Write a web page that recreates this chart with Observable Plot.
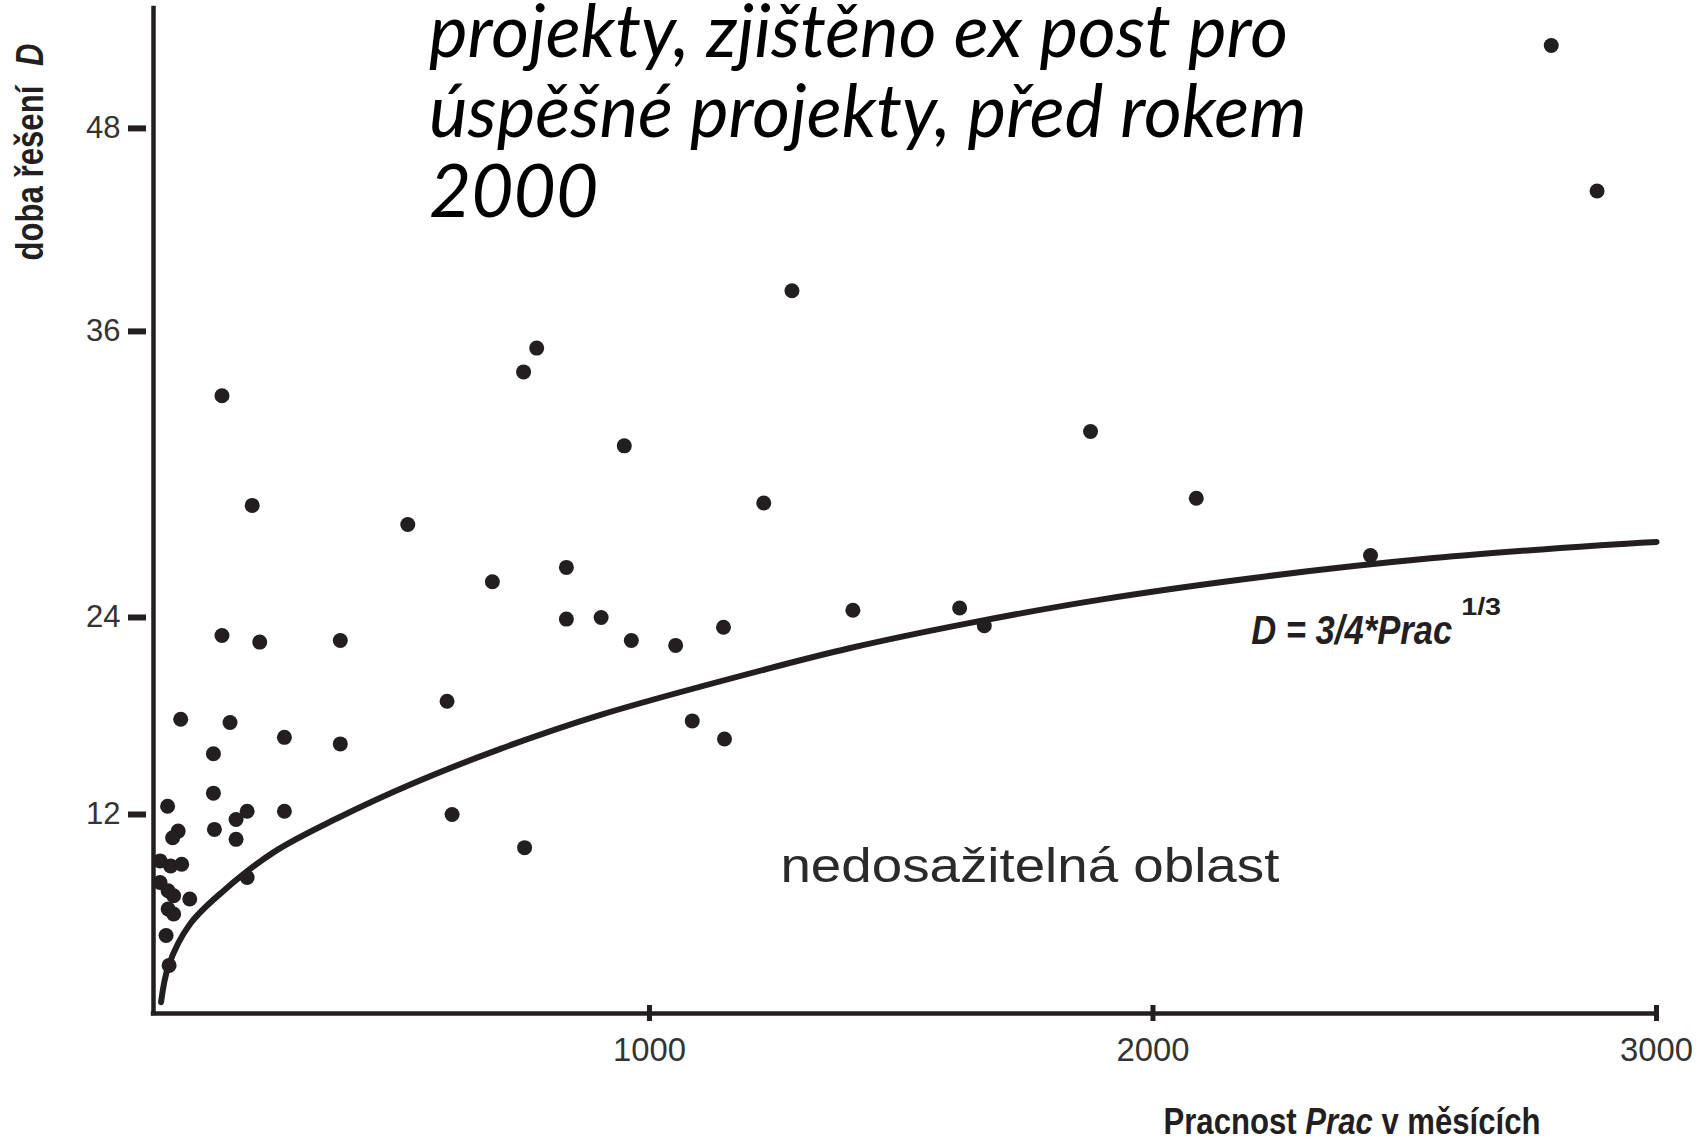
<!DOCTYPE html>
<html>
<head>
<meta charset="utf-8">
<script src="https://cdn.jsdelivr.net/npm/d3@7"></script>
<script src="https://cdn.jsdelivr.net/npm/@observablehq/plot@0.6"></script>
<style>
  html, body { margin: 0; padding: 0; background: #fff; }
  #wrap { position: relative; width: 1707px; height: 1140px; overflow: hidden; }
  #chart { position: absolute; left: 0; top: 0; }
  #title { position: absolute; left: 429px; top: 0; color: #000; font-style: italic; }
  #title div { position: absolute; left: 0; white-space: nowrap; line-height: 0; }
</style>
</head>
<body>
<div id="wrap">
  <div id="chart"></div>
  <div id="title"></div>
</div>
<script>
// ---- data ----
const titleLines = [
  "projekty, zjištěno ex post pro",
  "úspěšné projekty, před rokem",
  "2000"
];
const yLabelMain = "doba řešení";
const yLabelVar = "D";
const xLabelParts = ["Pracnost", "Prac", "v měsících"];
const regionLabel = "nedosažitelná oblast";
const formulaMain = "D = 3/4*Prac";
const formulaExp = "1/3";

const xTickValues = [1000, 2000, 3000];
const yTickValues = [12, 24, 36, 48];
// the printed y axis is unevenly spaced: where each tick value sits, in "12-step" units
const yTickPlacement = [0, 12, 23.88, 41.13, 53.37];

// projects: effort (Prac, months) and duration (D)
const pracValues = [
  151, 776, 750, 950, 211, 520, 835, 688, 835, 904,
  964, 151, 226, 386, 598, 1283, 1876, 1227, 1404, 1616,
  1052, 1147, 1665, 1085, 1149, 2086, 2432, 2791, 2882, 69,
  167, 275, 386, 134, 134, 43, 201, 275, 608, 179,
  64, 53, 136, 179, 28, 49, 71, 28, 44, 55,
  87, 44, 55, 201, 40, 46, 752
];
const dobaValues = [
  33.3, 35.3, 34.3, 31.2, 28.7, 27.9, 26.1, 25.5, 23.9, 24.0,
  22.6, 22.9, 22.5, 22.6, 18.9, 38.4, 31.8, 28.8, 24.3, 24.4,
  22.3, 23.4, 23.5, 17.7, 16.6, 29.0, 26.6, 52.9, 44.3, 17.8,
  17.6, 16.7, 16.3, 15.7, 13.3, 12.5, 12.2, 12.2, 12.0, 11.7,
  11.0, 10.6, 11.1, 10.5, 9.2, 8.9, 9.0, 7.9, 7.4, 7.1,
  6.9, 6.3, 6.0, 8.2, 4.7, 2.9, 10.0
];

// boundary curve
const curvePrac = [30, 45, 88, 155, 254, 380, 531, 704, 903, 1234, 1399, 1632, 1896, 2227, 2557, 2889, 3000];
const curveD    = [0.68, 2.89, 5.41, 7.42, 9.73, 11.77, 13.9, 16.0, 18.07, 20.87, 22.14, 23.64, 24.75, 25.73, 26.49, 27.03, 27.17];

// annotation anchors (data space)
const regionAt = [1260, 7.9];
const formulaAt = [2195, 22.4];
const exponentAt = [2612, 24.1];

// ---- build ----
const points = pracValues.map((p, i) => ({prac: p, doba: dobaValues[i]}));
const curve = curvePrac.map((p, i) => ({prac: p, doba: curveD[i]}));
const yWarp = d3.scaleLinear().domain([0, ...yTickValues]).range(yTickPlacement);

const ink = "#231f20";
const sans = "'Liberation Sans', Arial, Helvetica, sans-serif";
const xLabelText = xLabelParts.join(" ");
const yLabelText = yLabelMain + " " + yLabelVar;

const chart = Plot.plot({
  width: 1707,
  height: 1140,
  marginLeft: 153,
  marginRight: 51,
  marginTop: 8,
  marginBottom: 127,
  style: {background: "#fff", color: ink, fontFamily: sans, overflow: "visible"},
  x: {domain: [15, 3000]},
  y: {transform: yWarp, domain: [0, 60.6]},
  marks: [
    Plot.ruleX([15], {stroke: ink, strokeWidth: 4.5, strokeLinecap: "square"}),
    Plot.ruleY([0], {stroke: ink, strokeWidth: 4.5, strokeLinecap: "square"}),
    Plot.axisY({ticks: yTickValues.map(v => yWarp(v)), tickFormat: d => String(Math.round(yWarp.invert(d))), tickSize: 18, dx: -7, tickPadding: 8, strokeWidth: 6, stroke: ink, fill: "#333", fontSize: 31, label: null}),
    Plot.axisX({ticks: xTickValues, tickFormat: d => String(d), tickSize: 16, dy: -8, tickPadding: 16, strokeWidth: 5, stroke: ink, fill: "#333", fontSize: 33, label: null}),
    Plot.line(curve, {x: "prac", y: "doba", curve: "catmull-rom", stroke: ink, strokeWidth: 6}),
    Plot.dot(points, {x: "prac", y: "doba", r: 7.5, fill: ink, stroke: null}),
    Plot.text([regionLabel], {x: () => regionAt[0], y: () => regionAt[1], text: d => d, textAnchor: "start", lineAnchor: "bottom", fontSize: 49, fill: "#2a2a2a"}),
    Plot.text([formulaMain], {x: () => formulaAt[0], y: () => formulaAt[1], text: d => d, textAnchor: "start", lineAnchor: "bottom", fontSize: 41, fontWeight: "bold", fontStyle: "italic", fill: ink}),
    Plot.text([formulaExp], {x: () => exponentAt[0], y: () => exponentAt[1], text: d => d, textAnchor: "start", lineAnchor: "bottom", fontSize: 23, fontWeight: "bold", fill: ink}),
    Plot.text([yLabelText], {frameAnchor: "top-left", dx: -111, dy: 252, rotate: -90, text: d => d, textAnchor: "start", lineAnchor: "bottom", fontSize: 38, fontWeight: "bold", fill: ink}),
    Plot.text([xLabelText], {frameAnchor: "bottom-left", dx: 1010, dy: 120, text: d => d, textAnchor: "start", lineAnchor: "bottom", fontSize: 37, fontWeight: "bold", fill: ink})
  ]
});

// italic parts of the axis titles
const NS = "http://www.w3.org/2000/svg";
chart.querySelectorAll("text").forEach(t => {
  if (t.textContent === xLabelText) {
    t.textContent = "";
    const a = document.createElementNS(NS, "tspan"); a.textContent = xLabelParts[0] + " ";
    const b = document.createElementNS(NS, "tspan"); b.textContent = xLabelParts[1]; b.setAttribute("font-style", "italic");
    const c = document.createElementNS(NS, "tspan"); c.textContent = " " + xLabelParts[2];
    t.append(a, b, c);
    t.setAttribute("textLength", 377); t.setAttribute("lengthAdjust", "spacingAndGlyphs");
  } else if (t.textContent === yLabelText) {
    t.textContent = "";
    const a = document.createElementNS(NS, "tspan"); a.textContent = yLabelMain;
    const b = document.createElementNS(NS, "tspan"); b.textContent = yLabelVar; b.setAttribute("font-style", "italic"); b.setAttribute("dx", "24");
    t.append(a, b);
    t.setAttribute("textLength", 217); t.setAttribute("lengthAdjust", "spacingAndGlyphs");
  }
});

// condensed / stretched lettering of the original figure
const widths = new Map([
  [regionLabel, 499], [formulaMain, 201], [formulaExp, 40],
  ["1000", 73], ["2000", 73], ["3000", 73]
]);
chart.querySelectorAll("text").forEach(t => {
  const w = widths.get(t.textContent);
  if (w) { t.setAttribute("textLength", w); t.setAttribute("lengthAdjust", "spacingAndGlyphs"); }
});
document.getElementById("chart").appendChild(chart);

// ---- title overlay ----
const fam = "Lato, 'Open Sans', 'Noto Sans', sans-serif";
const ctx = document.createElement("canvas").getContext("2d");
ctx.font = `italic 100px ${fam}`;
const w1 = ctx.measureText(titleLines[0]).width;
const w2 = ctx.measureText(titleLines[1]).width;
const size = 100 * ((856 / w1) + (881 / w2)) / 2;
ctx.font = `italic ${size}px ${fam}`;
const m = ctx.measureText("Hg");
const asc = m.fontBoundingBoxAscent, desc = m.fontBoundingBoxDescent;
const baselines = [57, 137, 217];
const titleBox = document.getElementById("title");
titleBox.style.fontFamily = fam;
titleBox.style.fontSize = size + "px";
titleLines.forEach((line, i) => {
  const d = document.createElement("div");
  d.textContent = line;
  d.style.top = (baselines[i] - (asc - desc) / 2) + "px";
  titleBox.appendChild(d);
});
</script>
</body>
</html>
